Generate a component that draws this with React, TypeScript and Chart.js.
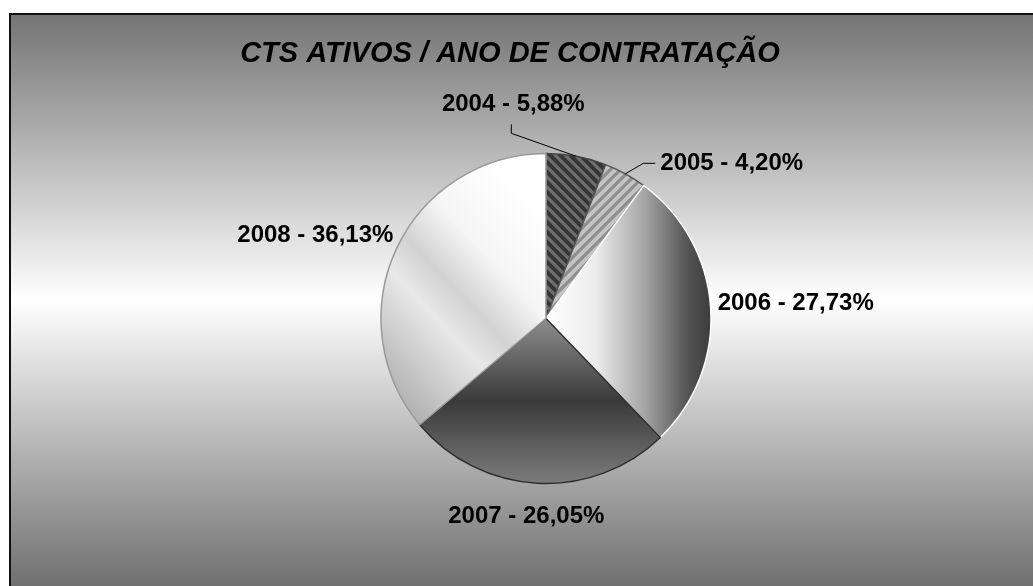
import React, { useEffect, useRef } from "react";
import { Chart, registerables } from "chart.js";

Chart.register(...registerables);

const categories = ["2004", "2005", "2006", "2007", "2008"];
const shares = [5.88, 4.2, 27.73, 26.05, 36.13];
const chartTitle = "CTS ATIVOS / ANO DE CONTRATAÇÃO";

// label placement relative to each slice's outer mid point (style config)
const labelOffsets = [
  { dx: -63, dy: -45, align: "center" },
  { dx: 35, dy: -4, align: "left" },
  { dx: 7, dy: 2, align: "left" },
  { dx: -11, dy: 40, align: "center" },
  { dx: -3, dy: -7, align: "right" },
];
const leaderLines: (number[][] | null)[] = [
  [[-65, -23], [-65, -32]],
  [[18, -10.5], [30, -10.5]],
  null,
  null,
  null,
];

function makeStripe(ctx: CanvasRenderingContext2D, base: string, stripe: string, dir: number) {
  const P = 10;
  const c = document.createElement("canvas");
  c.width = P;
  c.height = P;
  const g = c.getContext("2d")!;
  g.fillStyle = base;
  g.fillRect(0, 0, P, P);
  g.strokeStyle = stripe;
  g.lineWidth = 3.2;
  g.beginPath();
  if (dir > 0) {
    g.moveTo(-P, 0); g.lineTo(P, 2 * P);
    g.moveTo(0, 0); g.lineTo(P, P);
    g.moveTo(0, -P); g.lineTo(2 * P, P);
  } else {
    g.moveTo(0, P); g.lineTo(P, 0);
    g.moveTo(-P, P); g.lineTo(P, -P);
    g.moveTo(0, 2 * P); g.lineTo(2 * P, 0);
  }
  g.stroke();
  return ctx.createPattern(c, "repeat")!;
}

const bgPlugin = {
  id: "bgPlugin",
  beforeDraw(chart: any) {
    const ctx = chart.ctx as CanvasRenderingContext2D;
    const W = chart.width, H = chart.height;
    ctx.save();
    const g = ctx.createLinearGradient(0, 14, 0, H);
    g.addColorStop(0, "#747474");
    g.addColorStop(0.5, "#ffffff");
    g.addColorStop(1, "#707070");
    ctx.fillStyle = g;
    ctx.fillRect(9, 13, W - 9, H - 13);
    ctx.fillStyle = "#111111";
    ctx.fillRect(9, 13, W - 9, 2);
    ctx.fillRect(9, 13, 2, H - 13);
    ctx.fillStyle = "#000";
    ctx.font = "italic bold 29px 'Liberation Sans', Arial, sans-serif";
    ctx.textAlign = "center";
    ctx.textBaseline = "alphabetic";
    ctx.fillText(chartTitle, 510, 62);
    ctx.restore();
  },
};

const labelPlugin = {
  id: "labelPlugin",
  afterDatasetsDraw(chart: any) {
    const ctx = chart.ctx as CanvasRenderingContext2D;
    const meta = chart.getDatasetMeta(0);
    ctx.save();
    ctx.font = "bold 24px 'Liberation Sans', Arial, sans-serif";
    ctx.fillStyle = "#000";
    ctx.textBaseline = "alphabetic";
    meta.data.forEach((arc: any, i: number) => {
      const { x, y, startAngle, endAngle, outerRadius } = arc.getProps(
        ["x", "y", "startAngle", "endAngle", "outerRadius"],
        true
      );
      const mid = (startAngle + endAngle) / 2;
      const px = x + outerRadius * Math.cos(mid);
      const py = y + outerRadius * Math.sin(mid);
      const ll = leaderLines[i];
      if (ll) {
        ctx.strokeStyle = "#000";
        ctx.lineWidth = 1;
        ctx.beginPath();
        ctx.moveTo(px, py);
        ll.forEach((p) => ctx.lineTo(px + p[0], py + p[1]));
        ctx.stroke();
      }
      const o = labelOffsets[i];
      ctx.textAlign = o.align as CanvasTextAlign;
      const txt = `${categories[i]} - ${shares[i].toFixed(2).replace(".", ",")}%`;
      ctx.fillText(txt, px + o.dx, py + o.dy);
    });
    ctx.restore();
  },
};

const RADIUS = 165;

export default function App() {
  const ref = useRef<HTMLCanvasElement | null>(null);
  useEffect(() => {
    const canvas = ref.current!;
    let patterns: any[] | null = null;
    const fill = (c: any) => {
      const chart = c.chart;
      const area = chart.chartArea;
      const ctx = chart.ctx as CanvasRenderingContext2D;
      if (!area) return "#bbbbbb";
      const cx = (area.left + area.right) / 2;
      const cy = (area.top + area.bottom) / 2;
      const r = RADIUS;
      if (!patterns) {
        patterns = [
          makeStripe(ctx, "#353535", "#6e6e6e", 1),
          makeStripe(ctx, "#c4c4c4", "#8e8e8e", -1),
        ];
      }
      const i = c.dataIndex;
      if (i === 0) return patterns[0];
      if (i === 1) return patterns[1];
      if (i === 2) {
        const g = ctx.createLinearGradient(cx, 0, cx + r, 0);
        g.addColorStop(0, "#ffffff");
        g.addColorStop(0.3, "#ececec");
        g.addColorStop(0.6, "#a4a4a4");
        g.addColorStop(0.85, "#555555");
        g.addColorStop(1, "#3c3c3c");
        return g;
      }
      if (i === 3) {
        const g = ctx.createLinearGradient(0, cy, 0, cy + r);
        g.addColorStop(0, "#8e8e8e");
        g.addColorStop(0.5, "#3a3a3a");
        g.addColorStop(1, "#7c7c7c");
        return g;
      }
      const g = ctx.createLinearGradient(cx - r, cy + r * 0.35, cx, cy - r * 0.6);
      g.addColorStop(0, "#b4b4b4");
      g.addColorStop(0.35, "#e8e8e8");
      g.addColorStop(0.5, "#d2d2d2");
      g.addColorStop(0.7, "#f5f5f5");
      g.addColorStop(1, "#ffffff");
      return g;
    };
    const chart = new Chart(canvas, {
      type: "pie",
      data: {
        labels: categories,
        datasets: [
          {
            data: shares,
            backgroundColor: fill as any,
            borderColor: ["#444444", "#555555", "#ffffff", "#2e2e2e", "#9a9a9a"],
            borderWidth: 1.5,
            radius: RADIUS,
          } as any,
        ],
      },
      options: {
        animation: false,
        responsive: false,
        maintainAspectRatio: false,
        layout: { padding: { left: 100, right: 41, top: 100, bottom: 49 } },
        plugins: {
          legend: { display: false },
          tooltip: { enabled: false },
          title: { display: false },
        },
      },
      plugins: [bgPlugin, labelPlugin],
    });
    return () => chart.destroy();
  }, []);
  return (
    <canvas
      ref={ref}
      width={1033}
      height={586}
      style={{ position: "fixed", left: 0, top: 0, width: 1033, height: 586 }}
    />
  );
}
